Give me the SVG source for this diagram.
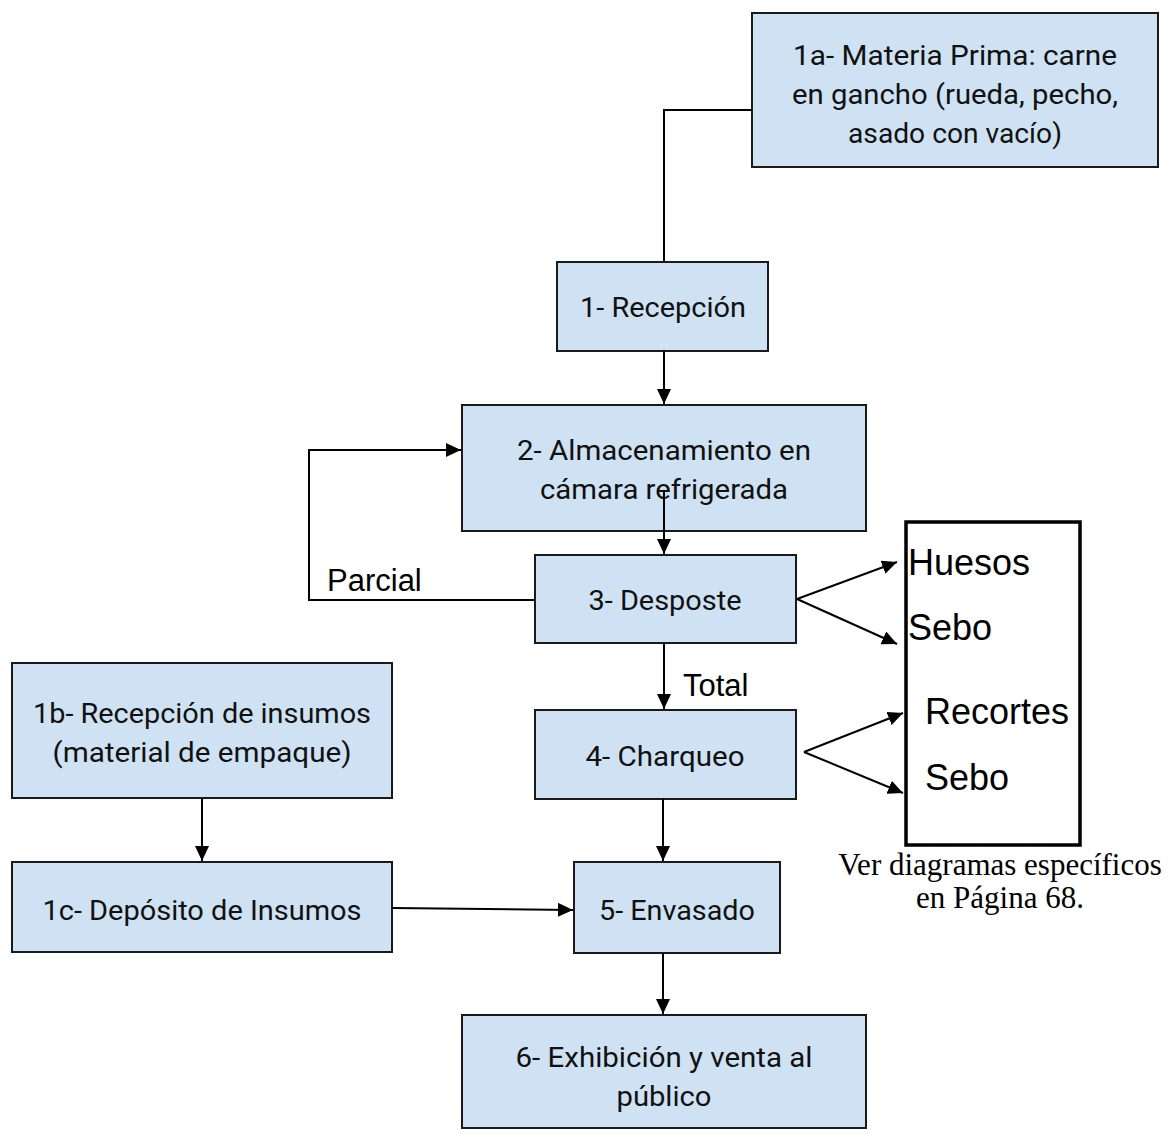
<svg xmlns="http://www.w3.org/2000/svg" width="1171" height="1136" viewBox="0 0 1171 1136">
  <style>
    .box { fill: #CFE2F3; stroke: #1a1a1a; stroke-width: 2; }
    .lbl { font-family: Roboto, "Open Sans", sans-serif; font-size: 28px; fill: #111; text-anchor: middle; }
    .side { font-family: "Liberation Sans", Arial, sans-serif; font-size: 36px; fill: #000; }
    .tag { font-family: "Liberation Sans", Arial, sans-serif; font-size: 31px; fill: #000; }
    .note { font-family: "Liberation Serif", "Times New Roman", serif; font-size: 31px; fill: #000; text-anchor: middle; }
    .wire { fill: none; stroke: #000; stroke-width: 2; }
  </style>
  <defs>
    <marker id="arrow" markerUnits="userSpaceOnUse" markerWidth="16" markerHeight="14" refX="15" refY="7" orient="auto">
      <path d="M0,0 L15,7 L0,14 z" fill="#000"/>
    </marker>
  </defs>

  <rect width="1171" height="1136" fill="#fff"/>

  <g id="n1a">
    <rect class="box" x="752" y="13" width="406" height="154"/>
    <text class="lbl" x="955" y="65" textLength="324" lengthAdjust="spacingAndGlyphs">1a- Materia Prima: carne</text>
    <text class="lbl" x="955" y="104" textLength="326" lengthAdjust="spacingAndGlyphs">en gancho (rueda, pecho,</text>
    <text class="lbl" x="955" y="143" textLength="214" lengthAdjust="spacingAndGlyphs">asado con vacío)</text>
  </g>

  <g id="n1">
    <rect class="box" x="557" y="262" width="211" height="89"/>
    <text class="lbl" x="663" y="317" textLength="166" lengthAdjust="spacingAndGlyphs">1- Recepción</text>
  </g>

  <g id="n2">
    <rect class="box" x="462" y="405" width="404" height="126"/>
    <text class="lbl" x="664" y="460" textLength="294" lengthAdjust="spacingAndGlyphs">2- Almacenamiento en</text>
    <text class="lbl" x="664" y="499" textLength="248" lengthAdjust="spacingAndGlyphs">cámara refrigerada</text>
  </g>

  <g id="n3">
    <rect class="box" x="535" y="555" width="261" height="88"/>
    <text class="lbl" x="665" y="610" textLength="153" lengthAdjust="spacingAndGlyphs">3- Desposte</text>
  </g>

  <g id="n4">
    <rect class="box" x="535" y="710" width="261" height="89"/>
    <text class="lbl" x="665" y="766" textLength="159" lengthAdjust="spacingAndGlyphs">4- Charqueo</text>
  </g>

  <g id="n1b">
    <rect class="box" x="12" y="663" width="380" height="135"/>
    <text class="lbl" x="202" y="723" textLength="338" lengthAdjust="spacingAndGlyphs">1b- Recepción de insumos</text>
    <text class="lbl" x="202" y="762" textLength="299" lengthAdjust="spacingAndGlyphs">(material de empaque)</text>
  </g>

  <g id="n1c">
    <rect class="box" x="12" y="862" width="380" height="90"/>
    <text class="lbl" x="202" y="920" textLength="319" lengthAdjust="spacingAndGlyphs">1c- Depósito de Insumos</text>
  </g>

  <g id="n5">
    <rect class="box" x="574" y="862" width="206" height="91"/>
    <text class="lbl" x="677" y="920" textLength="156" lengthAdjust="spacingAndGlyphs">5- Envasado</text>
  </g>

  <g id="n6">
    <rect class="box" x="462" y="1015" width="404" height="113"/>
    <text class="lbl" x="664" y="1067" textLength="297" lengthAdjust="spacingAndGlyphs">6- Exhibición y venta al</text>
    <text class="lbl" x="664" y="1106" textLength="95" lengthAdjust="spacingAndGlyphs">público</text>
  </g>

  <g id="byproducts">
    <rect x="906" y="522" width="174" height="323" fill="#fff" stroke="#000" stroke-width="3.5"/>
    <text class="side" x="908" y="575">Huesos</text>
    <text class="side" x="908" y="640">Sebo</text>
    <text class="side" x="925" y="724">Recortes</text>
    <text class="side" x="925" y="790">Sebo</text>
  </g>

  <!-- connectors, drawn above the boxes (the 2 to 3 line starts inside box 2) -->
  <g id="connectors">
    <path class="wire" d="M752,110 H664 V262"/>
    <path class="wire" d="M664,351 V404" marker-end="url(#arrow)"/>
    <path class="wire" d="M664,490 V554" marker-end="url(#arrow)"/>
    <path class="wire" d="M535,600 H309 V450 H461" marker-end="url(#arrow)"/>
    <path class="wire" d="M664,643 V709" marker-end="url(#arrow)"/>
    <path class="wire" d="M797,599 L897,562" marker-end="url(#arrow)"/>
    <path class="wire" d="M797,599 L897,644" marker-end="url(#arrow)"/>
    <path class="wire" d="M804,752 L903,713" marker-end="url(#arrow)"/>
    <path class="wire" d="M804,752 L903,793" marker-end="url(#arrow)"/>
    <path class="wire" d="M663,799 V861" marker-end="url(#arrow)"/>
    <path class="wire" d="M202,798 V861" marker-end="url(#arrow)"/>
    <path class="wire" d="M392,908 L573,910" marker-end="url(#arrow)"/>
    <path class="wire" d="M663,953 V1014" marker-end="url(#arrow)"/>
  </g>

  <!-- flow labels -->
  <text class="tag" x="327" y="591">Parcial</text>
  <text class="tag" x="683" y="696">Total</text>

  <g id="note">
    <text class="note" x="1000" y="875">Ver diagramas específicos</text>
    <text class="note" x="1000" y="908">en Página 68.</text>
  </g>
</svg>
